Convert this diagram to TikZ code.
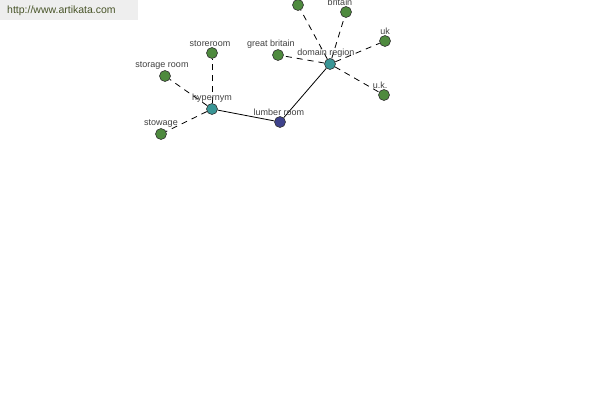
\documentclass[tikz,border=0pt]{standalone}
\usepackage{fontspec}
\setmainfont{Liberation Sans}
\definecolor{leafgreen}{RGB}{78,138,62}
\definecolor{hubteal}{RGB}{58,150,150}
\definecolor{rootblue}{RGB}{62,66,140}
\definecolor{linkgray}{RGB}{238,238,238}
\definecolor{linktext}{RGB}{72,84,40}
\usetikzlibrary{backgrounds}

\begin{document}
\begin{tikzpicture}[
    x=1pt, y=-1pt,
    every node/.append style={font=\fontsize{9}{10}\selectfont},
  ]

  \tikzset{
    term/.style={circle, draw=black!80, line width=0.6pt,
      minimum size=11pt, inner sep=0pt},
    term-leaf/.style={term, fill=leafgreen},
    term-hub/.style={term, fill=hubteal},
    term-root/.style={term, fill=rootblue},
    term-label/.style={text=black!75, inner sep=0.5pt, label distance=0pt},
    rel-solid/.style={draw=black, line width=0.8pt},
    rel-dashed/.style={draw=black, line width=0.8pt,
      dash pattern=on 6pt off 5pt},
  }

  \useasboundingbox (0,0) rectangle (600,400);

  %% ---------------- SITE LINK ----------------
  \fill[linkgray] (0,0) rectangle (138,20);
  \node[text=linktext, font=\fontsize{10.5}{12}\selectfont, anchor=west,
    inner sep=0pt] (site) at (7,11) {http://www.artikata.com};

  %% ---------------- ROOT ----------------
  \node[term-root, label={[term-label, xshift=-1pt]above:lumber room}] (lumber) at (280,122) {};

  %% ---------------- HYPERNYM BRANCH ----------------
  \node[term-hub, label={[term-label]above:hypernym}] (hypernym) at (212,109) {};
  \node[term-leaf, label={[term-label, xshift=-2pt]above:storeroom}] (storeroom) at (212,53) {};
  \node[term-leaf, label={[term-label, xshift=-3pt]above:storage room}] (storage) at (165,76) {};
  \node[term-leaf, label={[term-label]above:stowage}] (stowage) at (161,134) {};

  %% ---------------- DOMAIN BRANCH ----------------
  \node[term-hub, label={[term-label, xshift=-4pt]above:domain region}] (domain) at (330,64) {};
  \node[term-leaf, label={[term-label, xshift=-7pt]above:great britain}] (gb) at (278,55) {};
  \node[term-leaf] (topleaf) at (298,5) {};
  \node[term-leaf, label={[term-label, xshift=-6pt]above:britain}] (britain) at (346,12) {};
  \node[term-leaf, label={[term-label]above:uk}] (uk) at (385,41) {};
  \node[term-leaf, label={[term-label, xshift=-4pt]above:u.k.}] (ukdot) at (384,95) {};

  %% ---------------- RELATIONS ----------------
  \begin{scope}[on background layer]
    \draw[rel-solid] (hypernym) -- (lumber);
    \draw[rel-solid] (lumber) -- (domain);
    \foreach \leaf in {storeroom, storage, stowage}
      \draw[rel-dashed] (hypernym) -- (\leaf);
    \foreach \leaf in {gb, topleaf, britain, uk, ukdot}
      \draw[rel-dashed] (domain) -- (\leaf);
  \end{scope}

\end{tikzpicture}
\end{document}
